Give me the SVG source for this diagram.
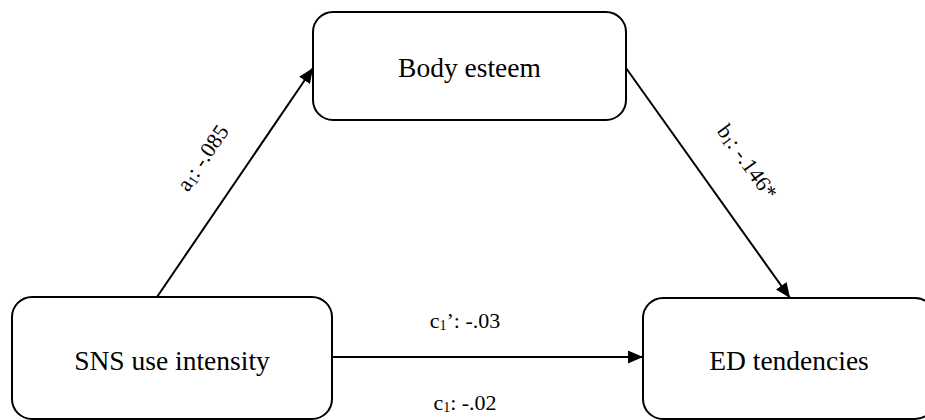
<svg xmlns="http://www.w3.org/2000/svg" width="925" height="420" viewBox="0 0 925 420">
<style>
.box{fill:#fff;stroke:#000;stroke-width:2}
.t{font-family:"Liberation Serif","Times New Roman",serif;fill:#000}
.nt{font-size:27.5px}
.lb{font-size:22px}
.sub{font-size:14px}
.edge{stroke:#000;stroke-width:2;fill:none;marker-end:url(#ah)}
</style>
<defs>
<marker id="ah" viewBox="0 0 15 13" refX="15" refY="6.5" markerWidth="15" markerHeight="13" markerUnits="userSpaceOnUse" orient="auto">
<path d="M0,0 L15,6.5 L0,13 Z" fill="#000"/>
</marker>
</defs>
<rect width="925" height="420" fill="#fff"/>
<g id="connectors">
<line class="edge" x1="157" y1="297" x2="313" y2="68"/>
<line class="edge" x1="626" y1="68" x2="790" y2="298"/>
<line class="edge" x1="332" y1="357" x2="643" y2="357"/>
<text class="t lb" transform="translate(203,158) rotate(-56)" text-anchor="middle" dy="7">a<tspan class="sub" dy="2">1</tspan><tspan dy="-2">: -.085</tspan></text>
<text class="t lb" transform="translate(747,162) rotate(54.4)" text-anchor="middle" dy="7">b<tspan class="sub" dy="2">1</tspan><tspan dy="-2">: -.146*</tspan></text>
<text class="t lb" x="465" y="328" text-anchor="middle">c<tspan class="sub" dy="2">1</tspan><tspan dy="-2">’: -.03</tspan></text>
<text class="t lb" x="465" y="410" text-anchor="middle">c<tspan class="sub" dy="2">1</tspan><tspan dy="-2">: -.02</tspan></text>
</g>
<g id="body-esteem">
<rect class="box" x="313" y="12" width="313" height="108" rx="20"/>
<text class="t nt" x="469.5" y="77" text-anchor="middle">Body esteem</text>
</g>
<g id="sns-use-intensity">
<rect class="box" x="12" y="297" width="320" height="122" rx="20"/>
<text class="t nt" x="172" y="370" text-anchor="middle">SNS use intensity</text>
</g>
<g id="ed-tendencies">
<rect class="box" x="643" y="298" width="292" height="121" rx="20"/>
<text class="t nt" x="789" y="370" text-anchor="middle">ED tendencies</text>
</g>
</svg>
